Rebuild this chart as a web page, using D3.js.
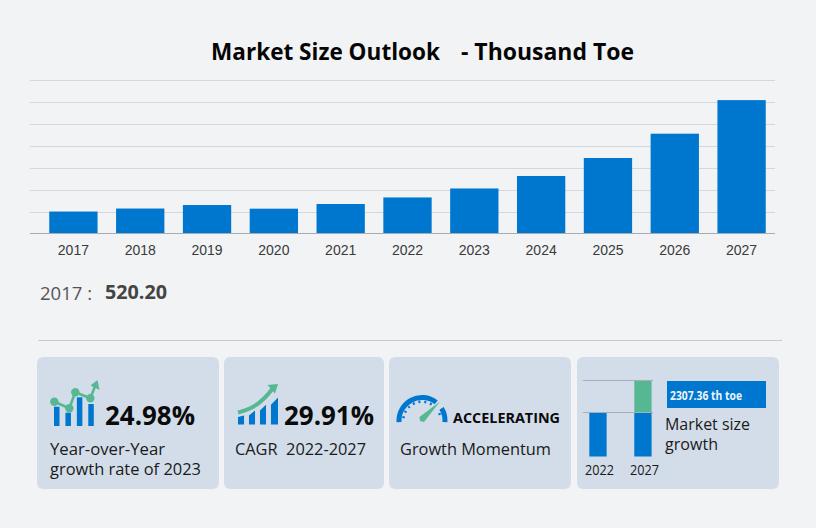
<!DOCTYPE html>
<html><head><meta charset="utf-8">
<script src="https://cdn.jsdelivr.net/npm/d3@7/dist/d3.min.js"></script>
<style>html,body{margin:0;padding:0;background:#f2f3f5}svg{display:block}</style>
</head><body><svg id="c" width="816" height="528"></svg>
<script>
const years=["2017","2018","2019","2020","2021","2022","2023","2024","2025","2026","2027"];
const marketSize=[520.2,592,675,588,699,854,1067,1363,1789,2365,3161];
const gridValues=[0,520,1040,1560,2080,2600,3120,3640];
const titleLeft="Market Size Outlook", titleRight="- Thousand Toe";
const hoverYear="2017 :";
const hoverValue="520.20";
const yoy="24.98%", yoyLabel=["Year-over-Year","growth rate of 2023"];
const cagr="29.91%", cagrLabel="CAGR  2022-2027";
const momentum="ACCELERATING", momentumLabel="Growth Momentum";
const increment="2307.36 th toe", growthLabel=["Market size","growth"];
const miniYears=["2022","2027"];
const miniBase=[854,854], miniGrowth=[0,622];
const icon1Bars=[19.3,13.3,28.7,22], icon1Line=[[0,24.3],[15,17.7],[21,33.7],[36,27.7],[42,43]];
const icon2Bars=[[7.4,9],[9,14],[14,19.7],[19.7,27]];
const icon2Curve=[[0,12],[14,16],[27,26],[37,39]];
const gaugeTicks=[-62,-44,-26,-8,10,28];

const sans='"Open Sans","Noto Sans",sans-serif', arial='"Liberation Sans",Arial,sans-serif';
const blue="#0077cf", green="#56b892", card="#d3dde9", ink="#0b0b0b";
const svg=d3.select("#c");

function txt(x,y,s,size,opt={}){
  const t=svg.append("text").attr("x",x).attr("y",y).text(s)
    .attr("font-family",opt.family||sans).attr("font-size",size)
    .attr("font-weight",opt.weight||400).attr("fill",opt.fill||ink)
    .attr("text-anchor",opt.anchor||"start").style("white-space","pre");
  if(opt.width)t.attr("textLength",opt.width).attr("lengthAdjust","spacingAndGlyphs");
  return t;
}

/* main chart */
const x=d3.scaleBand().domain(years).range([40,775]).paddingInner(.277).paddingOuter(.1385);
const y=d3.scaleLinear().domain([0,3640]).range([233.5,79.9]);
svg.append("g").attr("class","grid").selectAll("line").data(gridValues.slice(1)).join("line")
  .attr("x1",30).attr("x2",775).attr("y1",d=>Math.round(y(d))+.5).attr("y2",d=>Math.round(y(d))+.5)
  .attr("stroke","#d6d7dc");
svg.append("g").selectAll("rect").data(marketSize).join("rect")
  .attr("x",(d,i)=>x(years[i])).attr("width",x.bandwidth())
  .attr("y",d=>y(d)).attr("height",d=>y(0)-y(d)).attr("fill",blue);
svg.append("line").attr("x1",30).attr("x2",775).attr("y1",233.5).attr("y2",233.5).attr("stroke","#a9abb1");
const ax=svg.append("g").attr("transform","translate(0,233.5)").call(d3.axisBottom(x).tickSize(0).tickPadding(12));
ax.select(".domain").remove();
ax.selectAll("text").attr("font-family",arial).attr("font-size",14).attr("fill","#3a3a3a");
txt(211,60,titleLeft,23,{weight:700,width:229,fill:"#050505"});
txt(461,60,titleRight,23,{weight:700,width:173,fill:"#050505"});
txt(40,300,hoverYear,19,{fill:"#555",width:52});
txt(105,298.5,hoverValue,19,{weight:700,fill:"#444",width:62});
svg.append("line").attr("x1",38).attr("x2",782).attr("y1",340.5).attr("y2",340.5).attr("stroke","#c6c9da");

/* cards */
[[37,182],[224,160],[389,182],[577,202]].forEach(([cx,w])=>{
  svg.append("rect").attr("x",cx).attr("y",357).attr("width",w).attr("height",132).attr("rx",6).attr("fill",card);
});

/* card 1 */
const i1x=d3.scaleLinear().domain([0,42]).range([54.3,96.3]);
const i1y=d3.scaleLinear().domain([0,43]).range([426,383]);
const i1b=d3.scaleBand().domain(d3.range(4)).range([54,94]).paddingInner(.5);
svg.append("g").selectAll("rect").data(icon1Bars).join("rect")
  .attr("x",(d,i)=>i1b(i)).attr("width",5.5).attr("y",d=>i1y(d)).attr("height",d=>i1y(0)-i1y(d)).attr("fill",blue);
svg.append("path").attr("d",d3.line().x(d=>i1x(d[0])).y(d=>i1y(d[1]))(icon1Line))
  .attr("fill","none").attr("stroke",green).attr("stroke-width",2.6);
svg.append("g").selectAll("circle").data(icon1Line.slice(0,4)).join("circle")
  .attr("cx",d=>i1x(d[0])).attr("cy",d=>i1y(d[1])).attr("r",4.2).attr("fill",green);
svg.append("path").attr("fill",green).attr("d",d3.line()([[97.5,380],[90.5,385.5],[99.5,390]]));
txt(105,425,yoy,26,{weight:700,width:90});
txt(50,455,yoyLabel[0],16,{width:115,fill:"#1a1a1a"});
txt(50,475,yoyLabel[1],16,{width:151,fill:"#1a1a1a"});

/* card 2 */
const i2x=d3.scaleLinear().domain([0,37]).range([238,275]);
const i2y=d3.scaleLinear().domain([0,39]).range([424.5,385.5]);
const i2b=d3.scaleBand().domain(d3.range(4)).range([238,277]).paddingInner(.45);
svg.append("g").selectAll("path").data(icon2Bars).join("path").attr("fill",blue)
  .attr("d",(d,i)=>{const a=i2b(i),b=a+i2b.bandwidth()+(i==3?1:0);
    return d3.line()([[a,i2y(0)],[a,i2y(d[0])],[b,i2y(d[1])],[b,i2y(0)]])+"Z";});
svg.append("path").attr("d",d3.line().x(d=>i2x(d[0])).y(d=>i2y(d[1])).curve(d3.curveBasis)(icon2Curve))
  .attr("fill","none").attr("stroke",green).attr("stroke-width",4);
svg.append("path").attr("fill",green).attr("d",d3.line()([[278,384],[267.5,385],[275,393.5]]));
txt(284,425,cagr,26,{weight:700,width:90});
txt(235,455,cagrLabel,16,{width:131,fill:"#1a1a1a"});

/* card 3 */
const g=svg.append("g").attr("transform","translate(422,420.5)");
const arc=d3.arc().innerRadius(20.5).outerRadius(25.5);
const rad=d=>d*Math.PI/180;
g.append("path").attr("fill",blue).attr("d",arc({startAngle:rad(-94),endAngle:rad(38)}));
g.append("path").attr("fill",blue).attr("d",arc({startAngle:rad(58),endAngle:rad(94)}));
g.selectAll("line").data(gaugeTicks.concat([-80,70])).join("line")
  .attr("x1",d=>20*Math.sin(rad(d))).attr("y1",d=>-20*Math.cos(rad(d)))
  .attr("x2",d=>17.5*Math.sin(rad(d))).attr("y2",d=>-17.5*Math.cos(rad(d)))
  .attr("stroke",blue).attr("stroke-width",2);
svg.append("path").attr("fill",green).attr("d",d3.line()([[440,401.5],[424,422],[420,421],[419.5,417]])+"Z");
txt(453,422.5,momentum,15,{weight:700,width:107});
txt(400,455,momentumLabel,16,{width:151,fill:"#1a1a1a"});

/* card 4 */
const mx=d3.scaleBand().domain(miniYears).range([589.3,651.6]).paddingInner(.615).paddingOuter(0);
const my=d3.scaleLinear().domain([0,854]).range([456.5,412.5]);
svg.append("g").selectAll("rect").data(miniBase).join("rect")
  .attr("x",(d,i)=>mx(miniYears[i])).attr("width",mx.bandwidth()).attr("y",d=>my(d)).attr("height",d=>my(0)-my(d)).attr("fill",blue);
svg.append("g").selectAll("rect").data(miniGrowth).join("rect")
  .attr("x",(d,i)=>mx(miniYears[i])).attr("width",mx.bandwidth()).attr("y",(d,i)=>my(miniBase[i]+d)).attr("height",(d,i)=>my(miniBase[i])-my(miniBase[i]+d)).attr("fill",green);
[854+622,854].forEach(v=>svg.append("line").attr("x1",583).attr("x2",653).attr("y1",my(v)).attr("y2",my(v)).attr("stroke","#a4aebd"));
miniYears.forEach(s=>txt(mx(s)+mx.bandwidth()/2+1.5,475,s,14,{anchor:"middle",width:29,fill:"#1a1a1a"}));
svg.append("rect").attr("x",667).attr("y",381).attr("width",99).attr("height",27).attr("fill",blue);
txt(670,400,increment,12.5,{weight:700,fill:"#eef4fb",width:72});
txt(665,430,growthLabel[0],16,{width:85,fill:"#1a1a1a"});
txt(665,450,growthLabel[1],16,{width:53,fill:"#1a1a1a"});
</script></body></html>
